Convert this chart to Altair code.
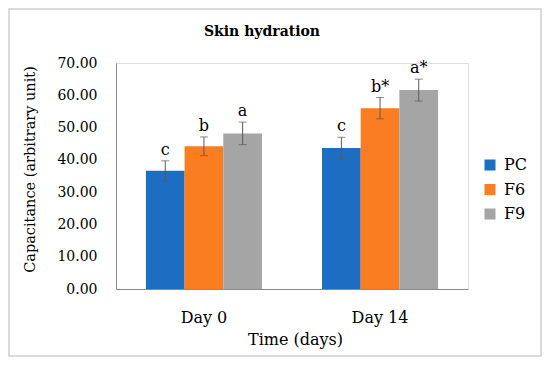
import altair as alt
import pandas as pd

days = ["Day 0", "Day 14"]
groups = ["PC", "F6", "F9"]
means_day0 = [36.6, 44.2, 48.2]
means_day14 = [43.7, 56.0, 61.6]
err_day0 = [3.1, 2.9, 3.5]
err_day14 = [3.3, 3.3, 3.4]
letters_day0 = ["c", "b", "a"]
letters_day14 = ["c", "b*", "a*"]
colors = ["#1b6ec2", "#fb7d22", "#a5a5a5"]
y_ticks = [0, 10, 20, 30, 40, 50, 60, 70]

rows = []
for d, means, errs, lets in [(days[0], means_day0, err_day0, letters_day0),
                             (days[1], means_day14, err_day14, letters_day14)]:
    for g, m, e, l in zip(groups, means, errs, lets):
        rows.append({"Day": d, "Group": g, "Mean": m, "Lo": m - e, "Hi": m + e, "Letter": l})
df = pd.DataFrame(rows)

FONT = "DejaVu Serif"
W, H = 352, 226

x_axis = alt.Axis(title="Time (days)", labelAngle=0, ticks=False, tickSize=0,
                  labelPadding=20, labelFont=FONT, labelFontSize=16,
                  labelColor="#000", domainColor="#8a8a8a",
                  titleFont=FONT, titleFontSize=16, titleFontWeight="normal",
                  titleColor="#000", titleX=179, titleY=50,
                  titleBaseline="middle", titleAlign="center")
x_scale = alt.Scale(paddingInner=0.341, paddingOuter=0.17)
y_axis = alt.Axis(title="Capacitance (arbitrary unit)", values=y_ticks, format=".2f",
                  grid=False, ticks=False, tickSize=0, labelPadding=19,
                  labelOverlap=False, labelFlush=False,
                  labelFont=FONT, labelFontSize=14, labelColor="#000",
                  domainColor="#8a8a8a",
                  titleFont=FONT, titleFontSize=14.5, titleFontWeight="normal",
                  titleColor="#000", titleX=-86, titleY=106,
                  titleBaseline="middle", titleAlign="center")
y_scale = alt.Scale(domain=[0, 70], nice=False, zero=True)


def X():
    return alt.X("Day:N", sort=days, scale=x_scale, axis=x_axis)


def Y(field):
    return alt.Y(field, type="quantitative", scale=y_scale, axis=y_axis)


xo = alt.XOffset("Group:N", sort=groups)
base = alt.Chart(df)

bars = base.mark_bar().encode(
    x=X(), xOffset=xo, y=Y("Mean"),
    color=alt.Color("Group:N", sort=groups,
                    scale=alt.Scale(domain=groups, range=colors),
                    legend=alt.Legend(title=None, orient="none", legendX=366, legendY=94,
                                      symbolType="square", symbolSize=121,
                                      symbolStrokeWidth=0, labelFont=FONT,
                                      labelFontSize=16, labelColor="#000",
                                      rowPadding=8.5, labelOffset=6)),
)

rules = base.mark_rule(color="#5a5a5a", strokeWidth=1).encode(
    x=X(), xOffset=xo, y=Y("Lo"), y2="Hi:Q")
cap_lo = base.mark_tick(color="#5a5a5a", thickness=1, size=8, orient="horizontal").encode(
    x=X(), xOffset=xo, y=Y("Lo"))
cap_hi = base.mark_tick(color="#5a5a5a", thickness=1, size=8, orient="horizontal").encode(
    x=X(), xOffset=xo, y=Y("Hi"))
letters = base.mark_text(font=FONT, fontSize=16, color="#000", baseline="alphabetic",
                         dy=-6).encode(
    x=X(), xOffset=xo, y=Y("Hi"), text="Letter:N")

title_df = pd.DataFrame({"t": ["Skin hydration"]})
title = alt.Chart(title_df).mark_text(font=FONT, fontSize=14, fontWeight="bold",
                                      color="#000", baseline="middle").encode(
    x=alt.value(146), y=alt.value(-31), text="t:N")
border = alt.Chart(title_df).mark_rect(fill=None, stroke="#cfcfcf", strokeWidth=1.5).encode(
    x=alt.value(-107), x2=alt.value(425), y=alt.value(-54), y2=alt.value(293))

chart = alt.layer(border, bars, rules, cap_lo, cap_hi, letters, title).properties(
    width=W, height=H,
    autosize=alt.AutoSizeParams(type="none"),
    padding={"left": 108, "top": 55, "right": 74, "bottom": 68},
).configure_view(stroke=None).configure(background="white")

chart.save("out.html", embed_options={"renderer": "svg", "actions": False})
